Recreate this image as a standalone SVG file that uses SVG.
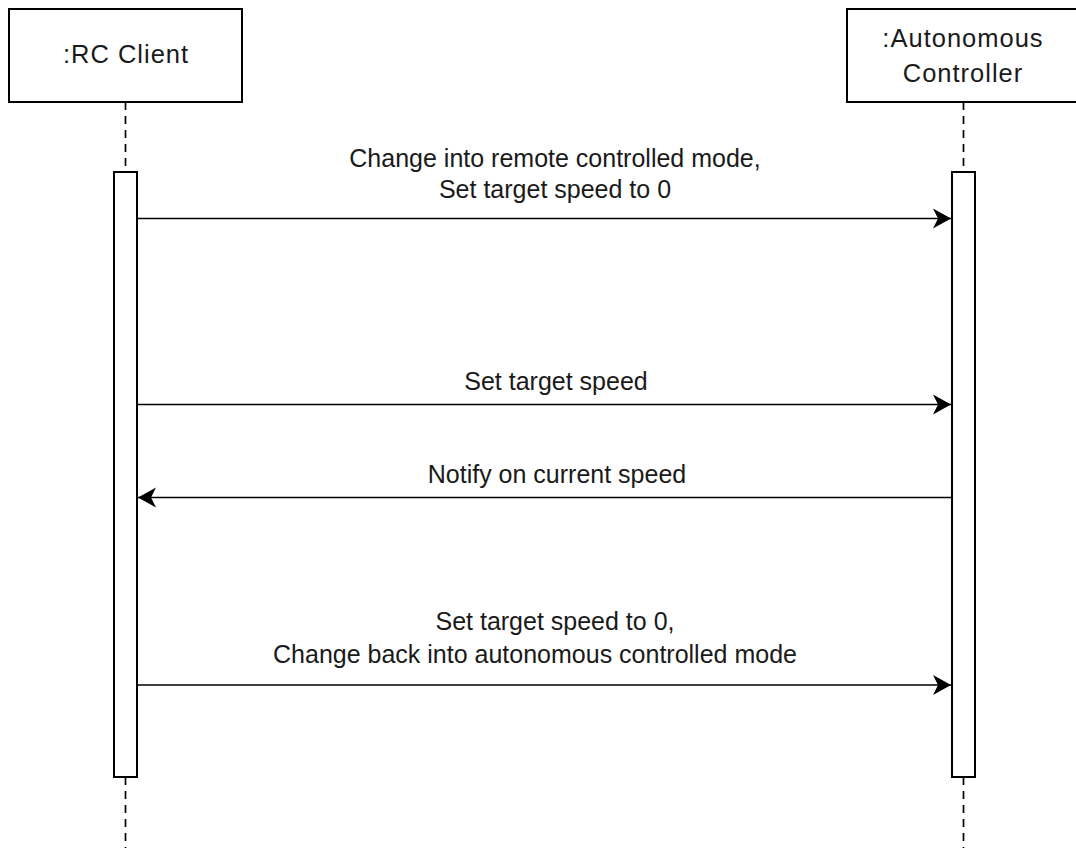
<svg xmlns="http://www.w3.org/2000/svg" width="1076" height="848" viewBox="0 0 1076 848">
<style>
.box{fill:#fff;stroke:#000;stroke-width:2}
.life{fill:none;stroke:#000;stroke-width:1.7;stroke-dasharray:8 6}
.act{fill:#fff;stroke:#000;stroke-width:2}
.msg{fill:none;stroke:#000;stroke-width:1.7}
.lbl{font-family:"Liberation Sans",Arial,sans-serif;font-size:25px;fill:#1a1a1a;text-anchor:middle}
.nlbl{font-family:"Liberation Sans",Arial,sans-serif;font-size:25.5px;letter-spacing:1px;fill:#1a1a1a;text-anchor:middle}
</style>
<defs>
<marker id="arr" markerUnits="userSpaceOnUse" markerWidth="20" markerHeight="22" viewBox="0 0 20 22" refX="18" refY="11" orient="auto">
<path d="M0,1 L18,11 L0,21 L5,11 Z" fill="#000"/>
</marker>
</defs>
<rect width="1076" height="848" fill="#fff"/>
<g id="lifelines">
<path class="life" d="M125.5,102 V172 M125.5,777 V848"/>
<path class="life" d="M963.5,102 V172 M963.5,777 V848"/>
</g>
<g id="rc-client">
<rect class="box" x="9" y="9" width="233" height="93"/>
<text class="nlbl" x="126" y="63">:RC Client</text>
<rect class="act" x="114" y="172" width="23" height="605"/>
</g>
<g id="autonomous-controller">
<rect class="box" x="847" y="9" width="233" height="93"/>
<text class="nlbl" x="963" y="46.5">:Autonomous</text>
<text class="nlbl" x="963" y="81.5">Controller</text>
<rect class="act" x="952" y="172" width="23" height="605"/>
</g>
<g id="connectors">
<line class="msg" x1="137" y1="218.5" x2="951" y2="218.5" marker-end="url(#arr)"/>
<line class="msg" x1="137" y1="404.5" x2="951" y2="404.5" marker-end="url(#arr)"/>
<line class="msg" x1="951" y1="497.5" x2="138" y2="497.5" marker-end="url(#arr)"/>
<line class="msg" x1="137" y1="685" x2="951" y2="685" marker-end="url(#arr)"/>
<text class="lbl" x="555" y="166.5">Change into remote controlled mode,</text>
<text class="lbl" x="555" y="198">Set target speed to 0</text>
<text class="lbl" x="556" y="390">Set target speed</text>
<text class="lbl" x="557" y="483">Notify on current speed</text>
<text class="lbl" x="555" y="630">Set target speed to 0,</text>
<text class="lbl" x="535" y="663">Change back into autonomous controlled mode</text>
</g>
</svg>
